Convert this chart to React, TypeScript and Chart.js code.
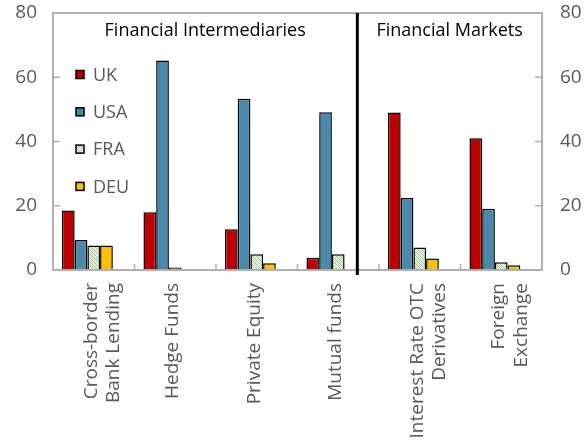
import React, { useEffect, useRef } from 'react';
import { Chart, registerables } from 'chart.js';

Chart.register(...registerables);

const categories: (string | string[])[] = [
  ['Cross-border', 'Bank Lending'],
  'Hedge Funds',
  'Private Equity',
  'Mutual funds',
  ['Interest Rate OTC', 'Derivatives'],
  ['Foreign', 'Exchange'],
];
const seriesNames = ['UK', 'USA', 'FRA', 'DEU'];
const ukValues = [18.5, 18.0, 12.7, 3.8, 49.0, 41.0];
const usaValues = [9.3, 65.2, 53.3, 49.1, 22.4, 19.1];
const fraValues = [7.6, 0.8, 4.9, 4.9, 7.0, 2.4];
const deuValues = [7.6, 0, 2.1, 0, 3.6, 1.5];
const spacerValues = [0, 0, 0, 0, 0, 0];
const yTickValues = [0, 20, 40, 60, 80];
const groupTitles = ['Financial Intermediaries', 'Financial Markets'];

const FONT = '"Open Sans", "Noto Sans", sans-serif';
const GRAY_TEXT = '#595959';
const AXIS_GRAY = '#b0b0b0';

function makeHatch(): CanvasPattern | string {
  const pc = document.createElement('canvas');
  pc.width = 4;
  pc.height = 4;
  const p = pc.getContext('2d');
  if (!p) return '#dbe9cf';
  p.fillStyle = '#eef5e8';
  p.fillRect(0, 0, 4, 4);
  p.fillStyle = '#a9c897';
  for (let i = 0; i < 4; i++) p.fillRect(i, i, 1, 1);
  p.fillStyle = '#c9dcbb';
  for (let i = 0; i < 4; i++) p.fillRect((i + 2) % 4, i, 1, 1);
  return p.createPattern(pc, 'repeat') || '#dbe9cf';
}

const noPad = (s: any) => {
  s.paddingTop = 0;
  s.paddingBottom = 0;
  s.paddingLeft = 0;
  s.paddingRight = 0;
};

export default function App() {
  const ref = useRef<HTMLCanvasElement | null>(null);

  useEffect(() => {
    if (!ref.current) return;
    const hatch = makeHatch();
    const colors: any[] = ['#c00000', '#4a89ab', hatch, '#ffc000'];
    const values = [ukValues, usaValues, fraValues, deuValues];

    const decorPlugin = {
      id: 'decor',
      afterDatasetsDraw(chart: any) {
        const { ctx, chartArea } = chart;
        const { left, right, top, bottom } = chartArea;
        const xs = chart.scales.x;
        const ys = chart.scales.y;
        ctx.save();
        // frame
        ctx.strokeStyle = AXIS_GRAY;
        ctx.lineWidth = 2;
        ctx.strokeRect(left, top, right - left, bottom - top);
        // inward tick marks
        ctx.lineWidth = 1.5;
        ctx.beginPath();
        yTickValues.forEach((v) => {
          if (v === yTickValues[0] || v === yTickValues[yTickValues.length - 1]) return;
          const y = ys.getPixelForValue(v);
          ctx.moveTo(left, y);
          ctx.lineTo(left + 7, y);
          ctx.moveTo(right, y);
          ctx.lineTo(right - 7, y);
        });
        for (let i = 1; i < categories.length; i++) {
          const x = (xs.getPixelForValue(i - 1) + xs.getPixelForValue(i)) / 2;
          ctx.moveTo(x, bottom);
          ctx.lineTo(x, bottom - 6);
        }
        ctx.stroke();
        // separator between the two groups
        const el = chart.getDatasetMeta(3).data[3];
        const sepX = el.x + el.width / 2;
        ctx.strokeStyle = '#000';
        ctx.lineWidth = 3;
        ctx.beginPath();
        ctx.moveTo(sepX, top);
        ctx.lineTo(sepX, bottom + 5);
        ctx.stroke();
        // group titles
        ctx.fillStyle = '#000';
        ctx.font = `18px ${FONT}`;
        ctx.textAlign = 'center';
        ctx.textBaseline = 'middle';
        ctx.fillText(groupTitles[0], (left + sepX) / 2, top + 18);
        ctx.fillText(groupTitles[1], (sepX + right) / 2, top + 18);
        // legend
        ctx.textAlign = 'left';
        seriesNames.forEach((name, i) => {
          const cy = top + 61.5 + i * 37.3;
          ctx.fillStyle = colors[i];
          ctx.fillRect(left + 23, cy - 4, 8, 8);
          ctx.strokeStyle = '#000';
          ctx.lineWidth = 1.5;
          ctx.strokeRect(left + 23, cy - 4, 8, 8);
          ctx.fillStyle = GRAY_TEXT;
          ctx.font = `18px ${FONT}`;
          ctx.fillText(name, left + 40, cy + 1);
        });
        ctx.restore();
      },
    };

    const datasets: any[] = seriesNames.map((name, i) => ({
      label: name,
      data: values[i],
      backgroundColor: colors[i],
      borderColor: '#000',
      borderWidth: 1.5,
    }));
    datasets.push({
      label: '',
      data: spacerValues,
      backgroundColor: 'rgba(0,0,0,0)',
      borderWidth: 0,
    });

    const tickFont = { family: FONT, size: 19 };
    const chart = new Chart(ref.current, {
      type: 'bar',
      data: { labels: categories as any, datasets },
      options: {
        responsive: false,
        animation: false,
        layout: { padding: { top: 13, left: 0, right: 0, bottom: 0 } },
        datasets: { bar: { categoryPercentage: 0.78, barPercentage: 1.0 } },
        plugins: { legend: { display: false }, tooltip: { enabled: false } },
        scales: {
          x: {
            grid: { display: false, drawTicks: false },
            border: { display: false },
            ticks: {
              minRotation: 90,
              maxRotation: 90,
              padding: 13,
              color: GRAY_TEXT,
              font: tickFont,
              labelOffset: (c: any) => (Array.isArray(categories[c.index]) ? 8 : -2.5),
            },
            afterFit: (s: any) => {
              s.height = 174;
              noPad(s);
            },
          },
          y: {
            position: 'left',
            min: 0,
            max: 80,
            grid: { display: false, drawTicks: false },
            border: { display: false },
            ticks: { stepSize: 20, padding: 16, color: GRAY_TEXT, font: tickFont },
            afterFit: (s: any) => {
              s.width = 53;
              noPad(s);
            },
          },
          y2: {
            position: 'right',
            min: 0,
            max: 80,
            grid: { display: false, drawTicks: false },
            border: { display: false },
            ticks: { stepSize: 20, padding: 18, color: GRAY_TEXT, font: tickFont },
            afterFit: (s: any) => {
              s.width = 44;
              noPad(s);
            },
          },
        },
      } as any,
      plugins: [decorPlugin],
    });
    return () => chart.destroy();
  }, []);

  return (
    <div style={{ position: 'absolute', left: 0, top: 0, width: 586, height: 444, background: '#fff' }}>
      <canvas ref={ref} width={586} height={444} style={{ display: 'block' }} />
    </div>
  );
}
